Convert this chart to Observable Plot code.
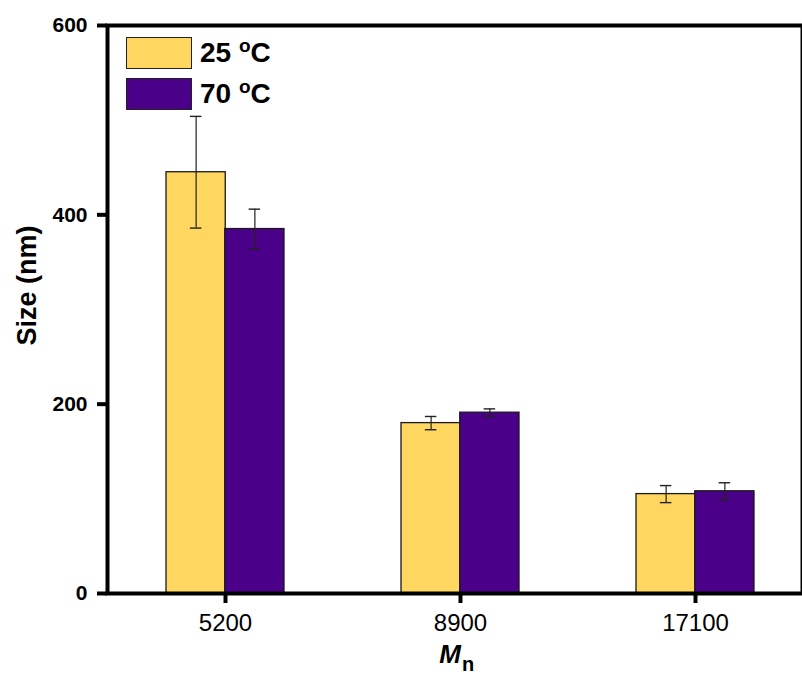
<!DOCTYPE html>
<html>
<head>
<meta charset="utf-8">
<script src="https://cdn.jsdelivr.net/npm/d3@7"></script>
<script src="https://cdn.jsdelivr.net/npm/@observablehq/plot@0.6"></script>
<style>
  html, body { margin: 0; padding: 0; background: #fff; overflow: hidden; }
  #chart { position: relative; width: 802px; height: 675px; font-family: "Liberation Sans", Arial, sans-serif; }
  #chart svg { display: block; }
  .legend { position: absolute; left: 126px; top: 37px; }
  .legend .row { display: flex; align-items: center; height: 32px; margin-bottom: 9px; }
  .legend .sw { width: 66px; height: 32px; box-sizing: border-box; border: 1.5px solid #222; }
  .legend .lab { margin-left: 8px; font-weight: bold; font-size: 28px; line-height: 32px; color: #000; }
  .legend .lab sup { font-size: 19px; position: relative; top: -10px; vertical-align: baseline; line-height: 0; }
</style>
</head>
<body>
<div id="chart"></div>
<script>
// Molecular weight groups and particle sizes (nm) at two temperatures
const mn = ["5200", "8900", "17100"];
const size25 = [445, 180, 105];
const err25 = [59, 7, 9];
const size70 = [385, 191, 108];
const err70 = [21, 4, 9];
const yTicks = [0, 200, 400, 600];
const series = [
  {key: "25", label: "25 ", color: "#FED660"},
  {key: "70", label: "70 ", color: "#4A0088"}
];

const rows25 = mn.map((m, i) => ({mn: m, size: size25[i], err: err25[i]}));
const rows70 = mn.map((m, i) => ({mn: m, size: size70[i], err: err70[i]}));

// Layout
const W = 802, H = 675;
const mLeft = 107, xEnd = 812, mTop = 25, mBottom = 82;
const step = (xEnd - mLeft) / mn.length;
const band = step * 0.5;          // width of a pair of bars
const half = band / 2;            // width of one bar
const cap = 5.5;                  // half width of error caps

function errorBars(rows, offset) {
  // offset: 0 for the left bar of the pair, 1 for the right one
  const c = half * offset + half / 2;
  return [
    Plot.ruleX(rows, {x: "mn", y1: d => d.size - d.err, y2: d => d.size + d.err,
      dx: c - band / 2, stroke: "#222", strokeWidth: 1.2}),
    Plot.tickY(rows, {x: "mn", y: d => d.size + d.err,
      insetLeft: c - cap, insetRight: band - c - cap, stroke: "#222", strokeWidth: 1.4}),
    Plot.tickY(rows, {x: "mn", y: d => d.size - d.err,
      insetLeft: c - cap, insetRight: band - c - cap, stroke: "#222", strokeWidth: 1.4})
  ];
}

const chart = Plot.plot({
  width: W,
  height: H,
  marginLeft: mLeft,
  marginTop: mTop,
  marginBottom: mBottom,
  marginRight: 0,
  style: {fontFamily: "'Liberation Sans', Arial, sans-serif", background: "#fff", color: "#000"},
  x: {domain: mn, range: [mLeft, xEnd], paddingInner: 0.5, paddingOuter: 0.25},
  y: {domain: [0, 600]},
  marks: [
    Plot.barY(rows25, {x: "mn", y: "size", fill: series[0].color, stroke: "#1a1a1a", strokeWidth: 1.3, insetRight: half}),
    Plot.barY(rows70, {x: "mn", y: "size", fill: series[1].color, stroke: "#1a1a1a", strokeWidth: 1.3, insetLeft: half}),
    ...errorBars(rows25, 0),
    ...errorBars(rows70, 1),
    Plot.axisY({ticks: yTicks, tickSize: 10, tickPadding: 10, strokeWidth: 4, stroke: "#000",
      fontSize: 21, fontWeight: "bold", fill: "#000", label: null}),
    Plot.axisX({tickSize: 10, tickPadding: 10, strokeWidth: 4, stroke: "#000",
      fontSize: 24, fill: "#000", label: null}),
    Plot.frame({stroke: "#000", strokeWidth: 4}),
    Plot.text(["Size (nm)"], {frameAnchor: "left", rotate: -90, dx: -80, dy: 36,
      fontSize: 27, fontWeight: "bold", fill: "#000"}),
    Plot.text(["M"], {frameAnchor: "bottom", textAnchor: "end", dx: 6, dy: 69,
      fontSize: 26, fontWeight: "bold", fontStyle: "italic", fill: "#000"}),
    Plot.text(["n"], {frameAnchor: "bottom", textAnchor: "start", dx: 7, dy: 77,
      fontSize: 20, fontWeight: "bold", fill: "#000"})
  ]
});

const root = document.getElementById("chart");
root.appendChild(chart);

// Legend in the upper-left corner of the plot area
const legend = document.createElement("div");
legend.className = "legend";
for (const s of series) {
  const row = document.createElement("div");
  row.className = "row";
  const sw = document.createElement("div");
  sw.className = "sw";
  sw.style.background = s.color;
  const lab = document.createElement("div");
  lab.className = "lab";
  lab.innerHTML = s.label + "<sup>o</sup>C";
  row.appendChild(sw);
  row.appendChild(lab);
  legend.appendChild(row);
}
root.appendChild(legend);
</script>
</body>
</html>
